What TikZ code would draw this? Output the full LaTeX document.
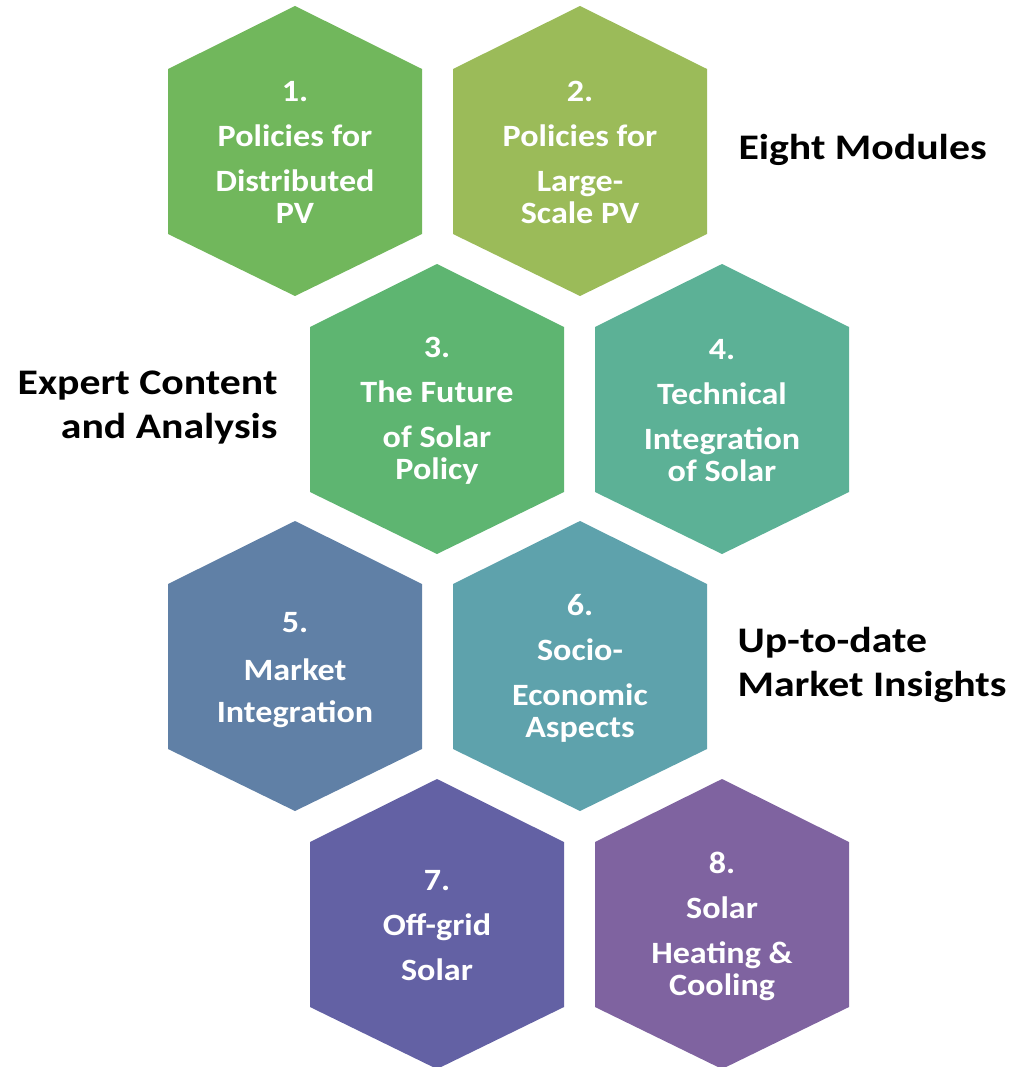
\documentclass[tikz,border=0pt]{standalone}
\usepackage{fontspec}
\setmainfont{Carlito}
\newfontfamily\modfont{Carlito}[FakeStretch=1.1]
\newfontfamily\sidefont{Carlito}[FakeStretch=1.16]
\definecolor{modA}{HTML}{71B75C}
\definecolor{modB}{HTML}{9BBB59}
\definecolor{modC}{HTML}{5EB571}
\definecolor{modD}{HTML}{5CB196}
\definecolor{modE}{HTML}{6080A6}
\definecolor{modF}{HTML}{5EA2AC}
\definecolor{modG}{HTML}{6361A4}
\definecolor{modH}{HTML}{7F63A0}
\begin{document}
\begin{tikzpicture}[x=1pt,y=-1pt,
    hexa/.pic={\fill (0,-145) -- (127,-82) -- (127,83) -- (0,145) -- (-127,83) -- (-127,-82) -- cycle;},
    modtext/.style={text=white,align=center,font=\modfont\fontsize{31}{32}\selectfont\bfseries},
    sidetext/.style={font=\sidefont\fontsize{36}{44}\selectfont\bfseries}]
    \useasboundingbox (0,0) rectangle (1025,1067);
    % row 1
    \pic[color=modA] at (295,151) {hexa};
    \pic[color=modB] at (580,151) {hexa};
    \node[modtext] (mod1) at (295,152) {1.\\[13pt]Policies for\\[13pt]Distributed\\PV};
    \node[modtext] (mod2) at (580,152) {2.\\[13pt]Policies for\\[13pt]Large-\\Scale PV};
    % row 2
    \pic[color=modC] at (437,409) {hexa};
    \pic[color=modD] at (722,409) {hexa};
    \node[modtext] (mod3) at (437,411) {3.\\[13pt]The Future\\[13pt]of Solar\\Policy};
    \node[modtext] (mod4) at (722,411) {4.\\[13pt]Technical\\[13pt]Integration\\of Solar};
    % row 3
    \pic[color=modE] at (295,666) {hexa};
    \pic[color=modF] at (580,666) {hexa};
    \node[modtext] (mod5) at (295,670) {5.\\[16pt]Market\\[10pt]Integration};
    \node[modtext] (mod6) at (580,668) {6.\\[13pt]Socio-\\[13pt]Economic\\Aspects};
    % row 4
    \pic[color=modG] at (437,924) {hexa};
    \pic[color=modH] at (722,924) {hexa};
    \node[modtext] (mod7) at (437,926) {7.\\[13pt]Off-grid\\[13pt]Solar};
    \node[modtext] (mod8) at (722,926) {8.\\[13pt]Solar\\[13pt]Heating \&\\Cooling};
    % side captions
    \node[sidetext,anchor=base west] (eight) at (735,160) {Eight Modules};
    \node[sidetext,align=right,anchor=east] (expert) at (281,408) {Expert Content\\and Analysis};
    \node[sidetext,align=left,anchor=west] (insight) at (734,665) {Up-to-date\\Market Insights};
\end{tikzpicture}
\end{document}
